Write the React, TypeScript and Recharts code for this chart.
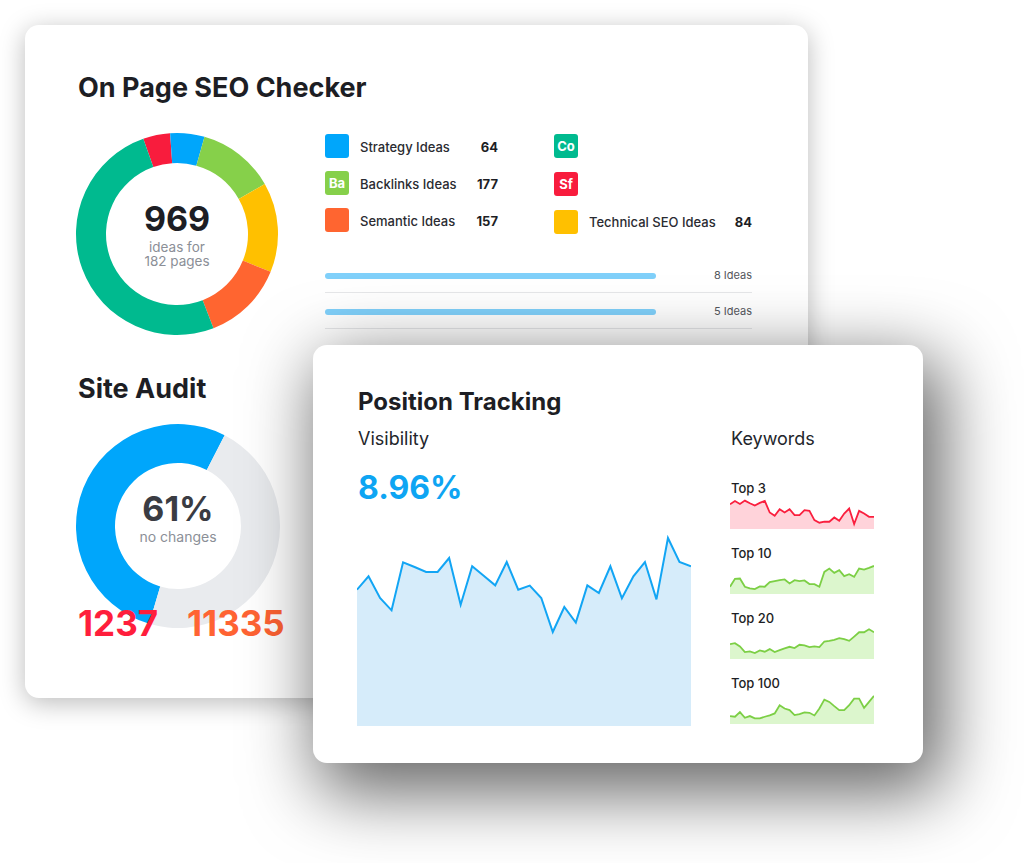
import React from 'react';
import { PieChart, Pie, Cell, AreaChart, Area, XAxis, YAxis, BarChart, Bar } from 'recharts';

const FONT = 'Inter, "Noto Sans", sans-serif';

// On Page SEO Checker ring, clockwise starting at the red slice
const seoSlices = ['Sf', 'Strategy', 'Backlinks', 'Technical', 'Semantic', 'Co'];
const seoSliceValues = [42, 53, 120, 139, 126, 489];
const seoSliceColors = ['#f81c3d', '#00a6fb', '#86d04a', '#ffc000', '#ff6530', '#00ba8f'];

// legend, left column
const ideaNames = ['Strategy Ideas', 'Backlinks Ideas', 'Semantic Ideas'];
const ideaCounts = [64, 177, 157];
const ideaBadges = ['', 'Ba', ''];
const ideaColors = ['#00a6fb', '#86d04a', '#ff6530'];
// legend, right column
const ideaBadges2 = ['Co', 'Sf', ''];
const ideaColors2 = ['#00ba8f', '#f81c3d', '#ffc000'];

// progress rows
const progressLabels = ['8 Ideas', '5 Ideas'];
const progressValues = [100, 100];

// Site Audit ring (blue runs counter-clockwise over the left side)
const auditSlices = ['changed', 'no changes'];
const auditValues = [53, 47];
const auditColors = ['#00a6fb', '#e9ebee'];

// Position Tracking
const days = Array.from({ length: 30 }, (_, i) => i + 1);
const visibility = [40.9, 44.9, 38.4, 34.7, 49.1, 47.7, 46.2, 46.2, 50.4, 36.4, 47.9, 45.1, 42.2, 49.2, 40.9,
  42.1, 38.4, 28.2, 35.7, 31.0, 42.2, 39.9, 47.9, 38.3, 44.9, 49.2, 38.0, 56.4, 49.2, 47.9];
const top3 = [75, 85, 76, 86, 78, 71, 79, 85, 50, 40, 60, 50, 60, 42, 42, 57, 55, 27, 19, 22, 22, 35, 25, 47, 62, 15, 55, 47, 37, 37];
const top10 = [22, 46, 47, 22, 17, 15, 23, 22, 36, 39, 42, 44, 32, 42, 39, 41, 30, 30, 22, 67, 77, 64, 72, 54, 60, 52, 77, 74, 79, 85];
const top20 = [45, 48, 38, 21, 23, 18, 26, 22, 30, 21, 27, 32, 37, 33, 43, 41, 36, 38, 36, 53, 55, 58, 63, 60, 55, 68, 81, 81, 90, 81];
const top100 = [24, 22, 36, 19, 24, 17, 17, 22, 26, 32, 57, 47, 42, 27, 30, 35, 34, 26, 47, 74, 67, 54, 42, 42, 57, 77, 77, 49, 67, 85];

const keywordNames = ['Top 3', 'Top 10', 'Top 20', 'Top 100'];
const keywordSeries = [top3, top10, top20, top100];
const keywordLine = ['#fa1f3e', '#7ccf45', '#7ccf45', '#7ccf45'];
const keywordFill = ['#ffd3da', '#dcf6cd', '#dcf6cd', '#dcf6cd'];
const keywordBaselines = [493, 558, 623, 688];

const noMargin = { top: 0, right: 0, bottom: 0, left: 0 };

function Txt({ x, y, size, weight = 400, color = '#1d1e24', align = 'left', children }: any) {
  const style: React.CSSProperties = {
    position: 'absolute',
    top: y - 0.864 * size,
    fontSize: size,
    fontWeight: weight,
    color,
    lineHeight: 1,
    whiteSpace: 'nowrap',
    fontFamily: FONT,
  };
  if (align === 'left') style.left = x;
  else if (align === 'right') {
    style.left = x - 300;
    style.width = 300;
    style.textAlign = 'right';
  } else {
    style.left = x - 150;
    style.width = 300;
    style.textAlign = 'center';
  }
  return <div style={style}>{children}</div>;
}

function Swatch({ x, y, color, badge }: any) {
  return (
    <div
      style={{
        position: 'absolute', left: x, top: y, width: 24, height: 24, borderRadius: 3,
        background: color, color: '#fff', fontFamily: FONT, fontWeight: 700, fontSize: 13,
        lineHeight: '24px', textAlign: 'center',
      }}
    >
      {badge}
    </div>
  );
}

function Sparkline({ values, line, fill, top }: any) {
  const data = days.map((d, i) => ({ day: d, v: values[i] }));
  return (
    <div style={{ position: 'absolute', left: 730, top }}>
      <AreaChart width={144} height={33} data={data} margin={noMargin}>
        <XAxis dataKey="day" hide />
        <YAxis hide domain={[0, 100]} />
        <Area type="linear" dataKey="v" stroke={line} strokeWidth={1.8} fill={fill} fillOpacity={1} isAnimationActive={false} />
      </AreaChart>
    </div>
  );
}

export default function App() {
  const seoData = seoSlices.map((name, i) => ({ name, value: seoSliceValues[i] }));
  const auditData = auditSlices.map((name, i) => ({ name, value: auditValues[i] }));
  const progressData = progressLabels.map((label, i) => ({ label, value: progressValues[i] }));
  const visData = days.map((d, i) => ({ day: d, v: visibility[i] }));

  return (
    <div style={{ position: 'absolute', left: 0, top: 0, width: 1024, height: 863, background: '#fff', overflow: 'hidden', fontFamily: FONT }}>
      {/* card 1 */}
      <div style={{ position: 'absolute', left: 25, top: 25, width: 783, height: 673, borderRadius: 14, background: '#fff', boxShadow: '0 5px 26px rgba(0,0,0,0.27)' }} />
      <Txt x={78} y={97} size={27} weight={700}>On Page SEO Checker</Txt>

      <div style={{ position: 'absolute', left: 67, top: 124 }}>
        <PieChart width={220} height={220} margin={noMargin}>
          <Pie data={seoData} dataKey="value" cx={110} cy={110} innerRadius={71} outerRadius={101}
            startAngle={109.5} endAngle={-250.5} stroke="none" isAnimationActive={false}>
            {seoData.map((d, i) => <Cell key={d.name} fill={seoSliceColors[i]} />)}
          </Pie>
        </PieChart>
      </div>
      <Txt x={177} y={231} size={34} weight={700} align="center">969</Txt>
      <Txt x={177} y={253} size={13.5} color="#8b8f97" align="center">ideas for</Txt>
      <Txt x={177} y={267} size={13.5} color="#8b8f97" align="center">182 pages</Txt>

      {ideaNames.map((name, i) => (
        <React.Fragment key={name}>
          <Swatch x={325} y={134 + i * 37} color={ideaColors[i]} badge={ideaBadges[i]} />
          <Txt x={360} y={152 + i * 37} size={13} weight={500} color="#2a2b31">{name}</Txt>
          <Txt x={498} y={152 + i * 37} size={13} weight={700} align="right">{ideaCounts[i]}</Txt>
        </React.Fragment>
      ))}
      {ideaBadges2.map((b, i) => (
        <Swatch key={i} x={554} y={134 + i * 38} color={ideaColors2[i]} badge={b} />
      ))}
      <Txt x={589} y={227} size={13} weight={500} color="#2a2b31">Technical SEO Ideas</Txt>
      <Txt x={752} y={227} size={13} weight={700} align="right">84</Txt>

      <div style={{ position: 'absolute', left: 325, top: 258 }}>
        <BarChart width={331} height={72} data={progressData} layout="vertical" margin={noMargin}>
          <XAxis type="number" hide domain={[0, 100]} />
          <YAxis type="category" dataKey="label" hide />
          <Bar dataKey="value" fill="#80d0fa" barSize={6} radius={3} isAnimationActive={false} />
        </BarChart>
      </div>
      <div style={{ position: 'absolute', left: 325, top: 292, width: 427, height: 1, background: '#e6e7e9' }} />
      <div style={{ position: 'absolute', left: 325, top: 328, width: 427, height: 1, background: '#e6e7e9' }} />
      {progressLabels.map((l, i) => (
        <Txt key={l} x={752} y={280 + i * 36} size={11} color="#55575d" align="right">{l}</Txt>
      ))}

      <Txt x={78} y={398} size={27} weight={700}>Site Audit</Txt>
      <div style={{ position: 'absolute', left: 68, top: 416 }}>
        <PieChart width={220} height={220} margin={noMargin}>
          <Pie data={auditData} dataKey="value" cx={110} cy={110} innerRadius={63} outerRadius={102}
            startAngle={62.8} endAngle={422.8} stroke="none" isAnimationActive={false}>
            {auditData.map((d, i) => <Cell key={d.name} fill={auditColors[i]} />)}
          </Pie>
        </PieChart>
      </div>
      <Txt x={178} y={521} size={34} weight={700} color="#3a3c43" align="center">61%</Txt>
      <Txt x={178} y={542} size={14} color="#8b8f97" align="center">no changes</Txt>
      <Txt x={78} y={636} size={35} weight={700} color="#ff1e3c">1237</Txt>
      <Txt x={187} y={636} size={35} weight={700} color="#ff6333">11335</Txt>

      {/* card 2 */}
      <div style={{ position: 'absolute', left: 313, top: 345, width: 610, height: 418, borderRadius: 14, background: '#fff', boxShadow: '12px 22px 70px 8px rgba(0,0,0,0.6)' }} />
      <Txt x={358} y={411} size={24} weight={700}>Position Tracking</Txt>
      <Txt x={358} y={446} size={18} color="#23252b">Visibility</Txt>
      <Txt x={358} y={500} size={32} weight={700} color="#0ea5f3">8.96%</Txt>

      <div style={{ position: 'absolute', left: 357, top: 526 }}>
        <AreaChart width={334} height={200} data={visData} margin={noMargin}>
          <XAxis dataKey="day" hide />
          <YAxis hide domain={[0, 60]} />
          <Area type="linear" dataKey="v" stroke="#12a5f4" strokeWidth={2} fill="#d6ecfa" fillOpacity={1} isAnimationActive={false} />
        </AreaChart>
      </div>

      <Txt x={731} y={446} size={18} color="#23252b">Keywords</Txt>
      {keywordNames.map((name, i) => (
        <React.Fragment key={name}>
          <Txt x={731} y={keywordBaselines[i]} size={13} weight={500}>{name}</Txt>
          <Sparkline values={keywordSeries[i]} line={keywordLine[i]} fill={keywordFill[i]} top={keywordBaselines[i] + 3} />
        </React.Fragment>
      ))}
    </div>
  );
}
